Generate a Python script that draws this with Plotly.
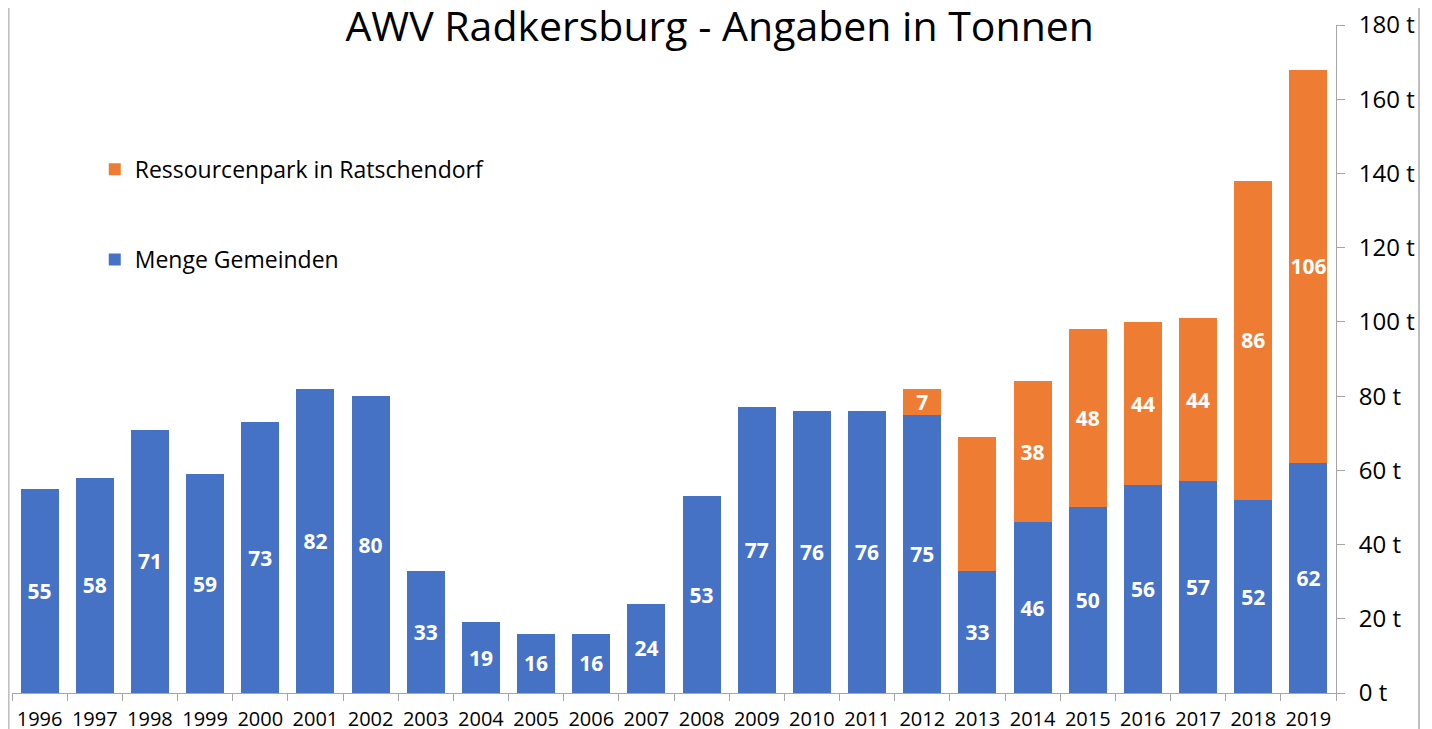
import plotly.graph_objects as go

years = [str(y) for y in range(1996, 2020)]
gemeinden = [55, 58, 71, 59, 73, 82, 80, 33, 19, 16, 16, 24, 53, 77, 76, 76, 75, 33, 46, 50, 56, 57, 52, 62]
ressourcenpark = [None] * 16 + [7, 36, 38, 48, 44, 44, 86, 106]
ressourcen_labels = [""] * 16 + ["7", "", "38", "48", "44", "44", "86", "106"]
y_ticks = [0, 20, 40, 60, 80, 100, 120, 140, 160, 180]

FONT = "Open Sans"

fig = go.Figure()
fig.add_trace(go.Bar(
    x=years, y=gemeinden, name="Menge Gemeinden",
    marker=dict(color="#4672c6", line=dict(width=0)),
    text=[str(v) for v in gemeinden], textposition="inside",
    insidetextanchor="middle", textangle=0, constraintext="none",
    textfont=dict(family=FONT, size=21, color="white", weight="bold"),
    legend="legend2", showlegend=True,
))
fig.add_trace(go.Bar(
    x=years, y=ressourcenpark, name="Ressourcenpark in Ratschendorf",
    marker=dict(color="#ee7d33", line=dict(width=0)),
    text=ressourcen_labels, textposition="inside",
    insidetextanchor="middle", textangle=0, constraintext="none",
    textfont=dict(family=FONT, size=21, color="white", weight="bold"),
    legend="legend", showlegend=True,
))

fig.update_layout(
    barmode="stack",
    bargap=0.31,
    showlegend=True,
    width=1432, height=729,
    margin=dict(l=4, r=104, t=17, b=44, autoexpand=False),
    paper_bgcolor="white", plot_bgcolor="white",
    font=dict(family=FONT, color="#000000"),
    title=dict(text="AWV Radkersburg - Angaben in Tonnen", x=0.497, xanchor="center",
               y=0.974, yanchor="middle", automargin=False,
               font=dict(family=FONT, size=41, color="#000000")),
    legend=dict(x=0.0625, y=0.784, xanchor="left", yanchor="middle", visible=True,
                font=dict(family=FONT, size=23, color="#000000"), bgcolor="rgba(0,0,0,0)"),
    legend2=dict(x=0.0625, y=0.649, xanchor="left", yanchor="middle", visible=True,
                 font=dict(family=FONT, size=23, color="#000000"), bgcolor="rgba(0,0,0,0)"),
    xaxis=dict(
        type="category", showline=True, linecolor="#a6a6a6", linewidth=1,
        ticks="outside", tickson="boundaries", ticklen=7, tickcolor="#a6a6a6",
        tickangle=0, ticklabeloverflow="allow",
        tickfont=dict(family=FONT, size=20, color="#000000"), ticklabelstandoff=8,
        showgrid=False, zeroline=False, automargin=False,
    ),
    yaxis=dict(
        side="right", range=[0, 180], tickvals=y_ticks,
        ticktext=[f"{v} t" for v in y_ticks],
        showline=True, linecolor="#a6a6a6", linewidth=1,
        ticks="outside", ticklen=8, tickcolor="#a6a6a6", ticklabelstandoff=9,
        ticklabeloverflow="allow",
        tickfont=dict(family=FONT, size=24, color="#000000"),
        showgrid=False, zeroline=False, automargin=False,
    ),
    shapes=[
        dict(type="line", xref="paper", yref="paper", x0=-0.0026, x1=-0.0026, y0=-0.2, y1=1.2,
             line=dict(color="#bfbfbf", width=2)),
        dict(type="line", xref="paper", yref="paper", x0=1.0627, x1=1.0627, y0=-0.2, y1=1.2,
             line=dict(color="#bfbfbf", width=2)),
    ],
)

fig.write_html("out.html")
